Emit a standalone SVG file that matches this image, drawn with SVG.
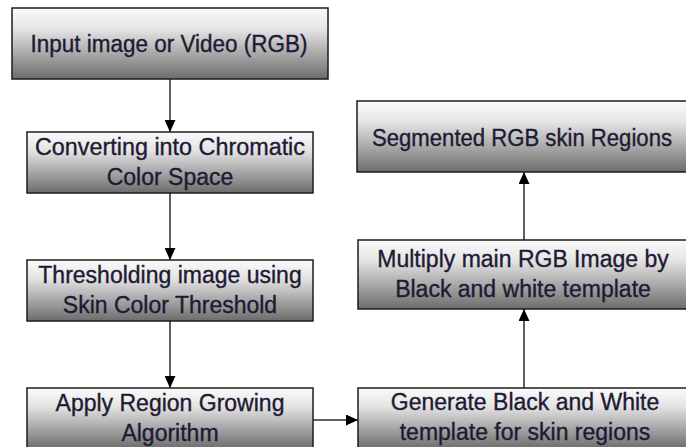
<svg xmlns="http://www.w3.org/2000/svg" width="686" height="447" viewBox="0 0 686 447">
  <defs>
    <linearGradient id="boxFill" x1="0" y1="0" x2="0" y2="1">
      <stop offset="0" stop-color="#fbfbfb"/>
      <stop offset="0.3" stop-color="#e4e4e4"/>
      <stop offset="1" stop-color="#6c6c6c"/>
    </linearGradient>
    <marker id="arrowHead" viewBox="0 0 12 11" refX="12" refY="5.5" markerWidth="12" markerHeight="11" markerUnits="userSpaceOnUse" orient="auto">
      <path d="M0,0 L12,5.5 L0,11 Z" fill="#000"/>
    </marker>
  </defs>
  <style>
    .box { fill: url(#boxFill); stroke: #1c1c1c; stroke-width: 1.5; }
    .label { font-family: "Liberation Sans", Arial, sans-serif; font-size: 23px; fill: #1e1a33; stroke: #1e1a33; stroke-width: 0.35; text-anchor: middle; }
    .link { fill: none; stroke: #2a2a2a; stroke-width: 1.5; marker-end: url(#arrowHead); }
  </style>
  <rect width="686" height="447" fill="#ffffff"/>

  <!-- connectors -->
  <g id="connectors">
    <line class="link" x1="170" y1="79" x2="170" y2="132"/>
    <line class="link" x1="170" y1="193" x2="170" y2="260"/>
    <line class="link" x1="170" y1="321" x2="170" y2="388"/>
    <line class="link" x1="313" y1="420" x2="358" y2="420"/>
    <line class="link" x1="524" y1="388" x2="524" y2="309"/>
    <line class="link" x1="524" y1="240" x2="524" y2="172"/>
  </g>

  <!-- left column -->
  <g id="input">
    <rect class="box" x="12" y="8" width="316" height="71"/>
    <text class="label" x="169" y="52" textLength="277" lengthAdjust="spacingAndGlyphs">Input image or Video (RGB)</text>
  </g>
  <g id="chromatic">
    <rect class="box" x="27" y="132" width="286" height="61"/>
    <text class="label" x="170" y="155" textLength="270" lengthAdjust="spacingAndGlyphs">Converting into Chromatic</text>
    <text class="label" x="170" y="185">Color Space</text>
  </g>
  <g id="threshold">
    <rect class="box" x="27" y="260" width="286" height="61"/>
    <text class="label" x="170" y="283">Thresholding image using</text>
    <text class="label" x="170" y="313">Skin Color Threshold</text>
  </g>
  <g id="regionGrowing">
    <rect class="box" x="27" y="388" width="286" height="61"/>
    <text class="label" x="170" y="411">Apply Region Growing</text>
    <text class="label" x="170" y="441">Algorithm</text>
  </g>

  <!-- right column -->
  <g id="template">
    <rect class="box" x="358" y="388" width="332" height="61"/>
    <text class="label" x="525" y="410">Generate Black and White</text>
    <text class="label" x="525" y="440">template for skin regions</text>
  </g>
  <g id="multiply">
    <rect class="box" x="358" y="240" width="332" height="69"/>
    <text class="label" x="523" y="267">Multiply main RGB Image by</text>
    <text class="label" x="523" y="297">Black and white template</text>
  </g>
  <g id="segmented">
    <rect class="box" x="357" y="101" width="333" height="71"/>
    <text class="label" x="522" y="146" textLength="300" lengthAdjust="spacingAndGlyphs">Segmented RGB skin Regions</text>
  </g>
</svg>
